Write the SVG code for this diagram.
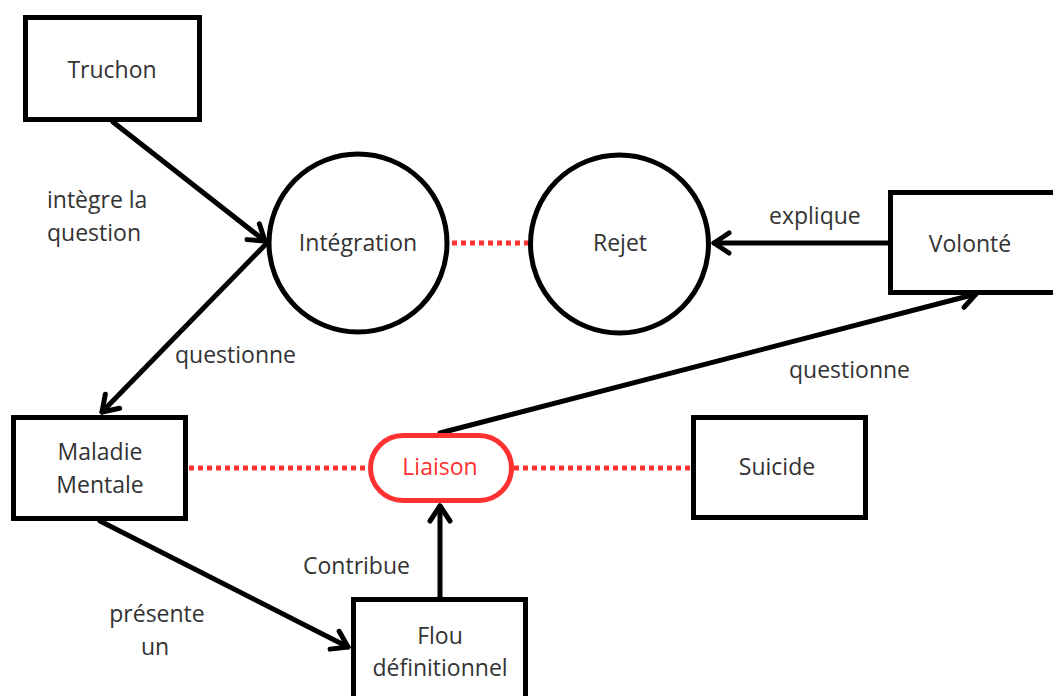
<svg xmlns="http://www.w3.org/2000/svg" width="1053" height="696" viewBox="0 0 1053 696">
<style>
.box{fill:#fff;stroke:#000;stroke-width:5}
.circ{fill:#fff;stroke:#000;stroke-width:5}
.pill{fill:#fff;stroke:#ff3131;stroke-width:5}
.t{font-family:"Open Sans","Liberation Sans",sans-serif;font-size:23px;fill:#333;text-anchor:middle}
.lbl{font-family:"Open Sans","Liberation Sans",sans-serif;font-size:23px;fill:#333}
.red{fill:#ff3131}
.edge{stroke:#000;stroke-width:5;fill:none;stroke-linecap:round}
.dot{stroke:#ff3131;stroke-width:5;fill:none;stroke-dasharray:5 4}
</style>
<defs>
<marker id="arr" markerUnits="userSpaceOnUse" viewBox="-20 -15 25 30" markerWidth="25" markerHeight="30" refX="0" refY="0" orient="auto" overflow="visible">
<path d="M-15,-10 L0,0 L-15,10" fill="none" stroke="#000" stroke-width="5" stroke-linecap="round" stroke-linejoin="round"/>
</marker>
</defs>
<rect width="1053" height="696" fill="#fff"/>
<g id="connectors">
<line class="edge" x1="113" y1="122" x2="265" y2="241" marker-end="url(#arr)"/>
<line class="edge" x1="266" y1="244" x2="102" y2="412" marker-end="url(#arr)"/>
<line class="edge" x1="888" y1="243" x2="714" y2="243" marker-end="url(#arr)"/>
<line class="edge" x1="440" y1="433" x2="976" y2="294" marker-end="url(#arr)"/>
<line class="edge" x1="100" y1="521" x2="348" y2="647" marker-end="url(#arr)"/>
<line class="edge" x1="440" y1="597" x2="440" y2="506" marker-end="url(#arr)"/>
<line class="dot" x1="452" y1="243" x2="528" y2="243"/>
<line class="dot" x1="189" y1="468" x2="368" y2="468"/>
<line class="dot" x1="514" y1="468" x2="691" y2="468"/>
<text class="lbl" x="47" y="208">intègre la</text>
<text class="lbl" x="47" y="241">question</text>
<text class="lbl" x="175" y="363">questionne</text>
<text class="lbl" x="769" y="224">explique</text>
<text class="lbl" x="789" y="378">questionne</text>
<text class="lbl" x="303" y="574">Contribue</text>
<text class="t" x="157" y="622">présente</text>
<text class="t" x="155" y="655">un</text>
</g>
<g id="truchon">
<rect class="box" x="25.5" y="17.5" width="174" height="102"/>
<text class="t" x="112" y="78">Truchon</text>
</g>
<g id="integration">
<circle class="circ" cx="358" cy="243" r="89"/>
<text class="t" x="358" y="251">Intégration</text>
</g>
<g id="rejet">
<circle class="circ" cx="619.5" cy="244" r="89"/>
<text class="t" x="620" y="251">Rejet</text>
</g>
<g id="volonte">
<rect class="box" x="890.5" y="192.5" width="172" height="100"/>
<text class="t" x="970" y="252">Volonté</text>
</g>
<g id="maladie">
<rect class="box" x="13.5" y="417.5" width="172" height="101"/>
<text class="t" x="100" y="460">Maladie</text>
<text class="t" x="100" y="493">Mentale</text>
</g>
<g id="liaison">
<rect class="pill" x="370.5" y="435.5" width="141" height="65" rx="32.5"/>
<text class="t red" x="440" y="475">Liaison</text>
</g>
<g id="suicide">
<rect class="box" x="693.5" y="417.5" width="172" height="100"/>
<text class="t" x="777" y="475">Suicide</text>
</g>
<g id="flou">
<rect class="box" x="353.5" y="599.5" width="172" height="104"/>
<text class="t" x="440" y="644">Flou</text>
<text class="t" x="440" y="676">définitionnel</text>
</g>
</svg>
